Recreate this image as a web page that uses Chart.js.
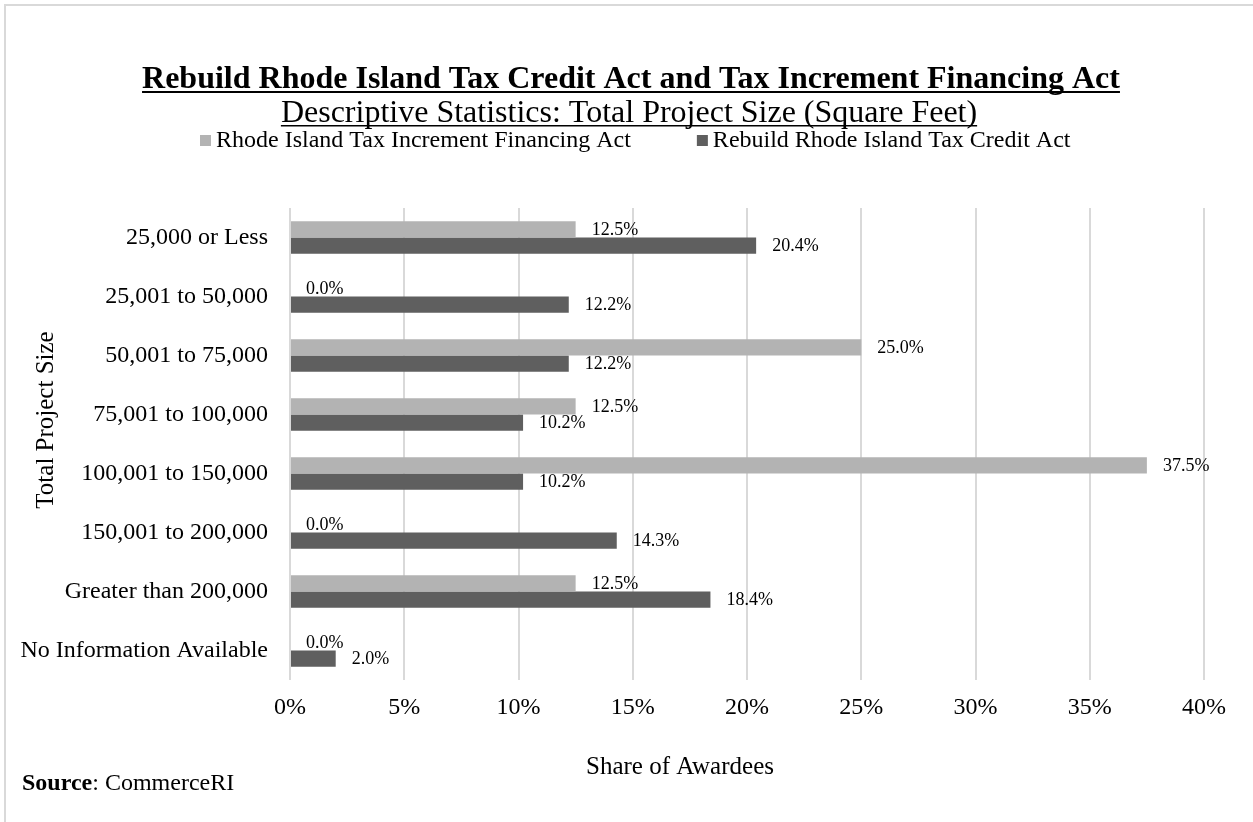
<!DOCTYPE html>
<html lang="en">
<head>
  <meta charset="UTF-8" />
  <title>Total Project Size (Square Feet)</title>
  <script src="https://cdn.jsdelivr.net/npm/chart.js"></script>
</head>
<body style="margin: 0; background: #fff;">

  <canvas id="sizeChart" width="1253" height="822"></canvas>

  <script>
    const categories = [
      '25,000 or Less',
      '25,001 to 50,000',
      '50,001 to 75,000',
      '75,001 to 100,000',
      '100,001 to 150,000',
      '150,001 to 200,000',
      'Greater than 200,000',
      'No Information Available'
    ];
    const seriesNames = ['Rhode Island Tax Increment Financing Act', 'Rebuild Rhode Island Tax Credit Act'];
    const tifShare = [12.5, 0.0, 25.0, 12.5, 37.5, 0.0, 12.5, 0.0];
    const rebuildShare = [20.4, 12.2, 12.2, 10.2, 10.2, 14.3, 18.4, 2.0];
    const xTicks = [0, 5, 10, 15, 20, 25, 30, 35, 40];

    const SERIF = "'Liberation Serif', 'Times New Roman', serif";
    const LIGHT = '#b3b3b3';
    const DARK = '#5f5f5f';
    const GRID = '#d9d9d9';

    // underlined centred heading
    function heading(ctx, text, x, y, font, lineW) {
      ctx.font = font;
      ctx.textAlign = 'center';
      ctx.textBaseline = 'alphabetic';
      ctx.fillText(text, x, y);
      const w = ctx.measureText(text).width;
      ctx.fillRect(x - w / 2, y + 3, w, lineW);
    }

    const decorations = {
      id: 'decorations',
      beforeDraw(chart) {
        const ctx = chart.ctx;
        ctx.save();
        ctx.strokeStyle = GRID;
        ctx.lineWidth = 2;
        ctx.strokeRect(5, 5, chart.width + 20, chart.height + 20);
        ctx.restore();
      },
      afterDraw(chart) {
        const ctx = chart.ctx;
        ctx.save();
        ctx.fillStyle = '#000';

        heading(ctx, 'Rebuild Rhode Island Tax Credit Act and Tax Increment Financing Act', 631, 88, 'bold 32px ' + SERIF, 2);
        heading(ctx, 'Descriptive Statistics: Total Project Size (Square Feet)', 629, 122, '32px ' + SERIF, 1.5);

        // legend, built from the datasets
        ctx.font = '24px ' + SERIF;
        ctx.textAlign = 'left';
        ctx.textBaseline = 'middle';
        let lx = 200;
        chart.data.datasets.forEach(ds => {
          ctx.fillStyle = ds.backgroundColor;
          ctx.fillRect(lx, 135, 11, 11);
          ctx.fillStyle = '#000';
          ctx.fillText(ds.label, lx + 16, 141);
          lx += 16 + ctx.measureText(ds.label).width + 66;
        });

        // axis titles
        ctx.font = '25px ' + SERIF;
        ctx.textAlign = 'center';
        ctx.fillText('Share of Awardees', 680, 767);
        ctx.save();
        ctx.translate(46, 420);
        ctx.rotate(-Math.PI / 2);
        ctx.fillText('Total Project Size', 0, 0);
        ctx.restore();

        // source note
        ctx.textAlign = 'left';
        ctx.font = 'bold 24px ' + SERIF;
        ctx.fillText('Source', 22, 784);
        const sw = ctx.measureText('Source').width;
        ctx.font = '24px ' + SERIF;
        ctx.fillText(': CommerceRI', 22 + sw, 784);
        ctx.restore();
      }
    };

    // value labels just past the end of each bar
    const barLabels = {
      id: 'barLabels',
      afterDatasetsDraw(chart) {
        const ctx = chart.ctx;
        ctx.save();
        ctx.font = '18px ' + SERIF;
        ctx.fillStyle = '#000';
        ctx.textAlign = 'left';
        ctx.textBaseline = 'middle';
        chart.data.datasets.forEach((ds, i) => {
          chart.getDatasetMeta(i).data.forEach((bar, j) => {
            ctx.fillText(ds.data[j].toFixed(1) + '%', bar.x + 16, bar.y + 1);
          });
        });
        ctx.restore();
      }
    };

    new Chart(document.getElementById('sizeChart'), {
      type: 'bar',
      data: {
        labels: categories,
        datasets: [
          { label: seriesNames[0], data: tifShare, backgroundColor: LIGHT },
          { label: seriesNames[1], data: rebuildShare, backgroundColor: DARK }
        ]
      },
      options: {
        indexAxis: 'y',
        responsive: false,
        animation: false,
        categoryPercentage: 0.55,
        barPercentage: 1.0,
        layout: { padding: { top: 208, left: 10, right: 49, bottom: 0 } },
        plugins: {
          legend: { display: false },
          title: { display: false },
          tooltip: { enabled: false }
        },
        scales: {
          x: {
            min: xTicks[0],
            max: xTicks[xTicks.length - 1],
            afterFit: s => { s.height = 142; },
            ticks: {
              stepSize: xTicks[1] - xTicks[0],
              padding: 13,
              color: '#000',
              font: { family: SERIF, size: 24 },
              callback: v => v + '%'
            },
            grid: { color: GRID, lineWidth: 2, drawTicks: false },
            border: { display: false }
          },
          y: {
            afterFit: s => { s.width = 280; },
            ticks: {
              padding: 22,
              color: '#000',
              font: { family: SERIF, size: 24 }
            },
            grid: { display: false, drawTicks: false },
            border: { display: false }
          }
        }
      },
      plugins: [decorations, barLabels]
    });
  </script>
</body>
</html>
